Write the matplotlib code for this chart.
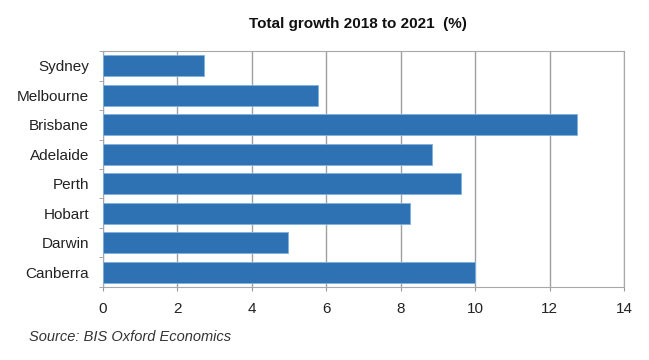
import numpy as np
import matplotlib.pyplot as plt

# Daten
cities = ['Sydney', 'Melbourne', 'Brisbane', 'Adelaide', 'Perth', 'Hobart', 'Darwin', 'Canberra']
growth = [2.72, 5.78, 12.74, 8.84, 9.62, 8.25, 4.97, 10.0]
x_ticks = [0, 2, 4, 6, 8, 10, 12, 14]

plt.rcParams['font.family'] = ['Liberation Sans', 'DejaVu Sans']

fig = plt.figure(figsize=(6.49, 3.6), dpi=100)
ax = fig.add_axes([0.1587, 0.2028, 0.8028, 0.6555])

y = np.arange(len(cities))
ax.barh(y, growth, height=0.72, color='#2e72b4', edgecolor='#7fb2e0', linewidth=0.6, zorder=3)

ax.set_ylim(len(cities) - 0.5, -0.5)
ax.set_yticks(y)
ax.set_yticklabels(cities, fontsize=11, color='#222222')
ax.set_yticks(np.arange(-0.5, len(cities), 1), minor=True)
ax.tick_params(axis='y', which='major', length=0, pad=10)
ax.tick_params(axis='y', which='minor', length=3, color='#999999')

ax.set_xlim(0, 14)
ax.set_xticks(x_ticks)
ax.set_xticklabels([str(t) for t in x_ticks], fontsize=11, color='#222222')
ax.tick_params(axis='x', length=3, color='#999999', pad=8)

ax.grid(axis='x', color='#a0a0a0', linewidth=1.0, zorder=0)
for s in ax.spines.values():
    s.set_color('#a8a8a8')

fig.text(0.551, 0.932, 'Total growth 2018 to 2021  (%)', ha='center', va='center',
         fontsize=11, fontweight='bold', color='#111111')
fig.text(0.045, 0.064, 'Source: BIS Oxford Economics', ha='left', va='center',
         fontsize=10.5, style='italic', color='#333333')

fig.savefig('out.png', dpi=100)
